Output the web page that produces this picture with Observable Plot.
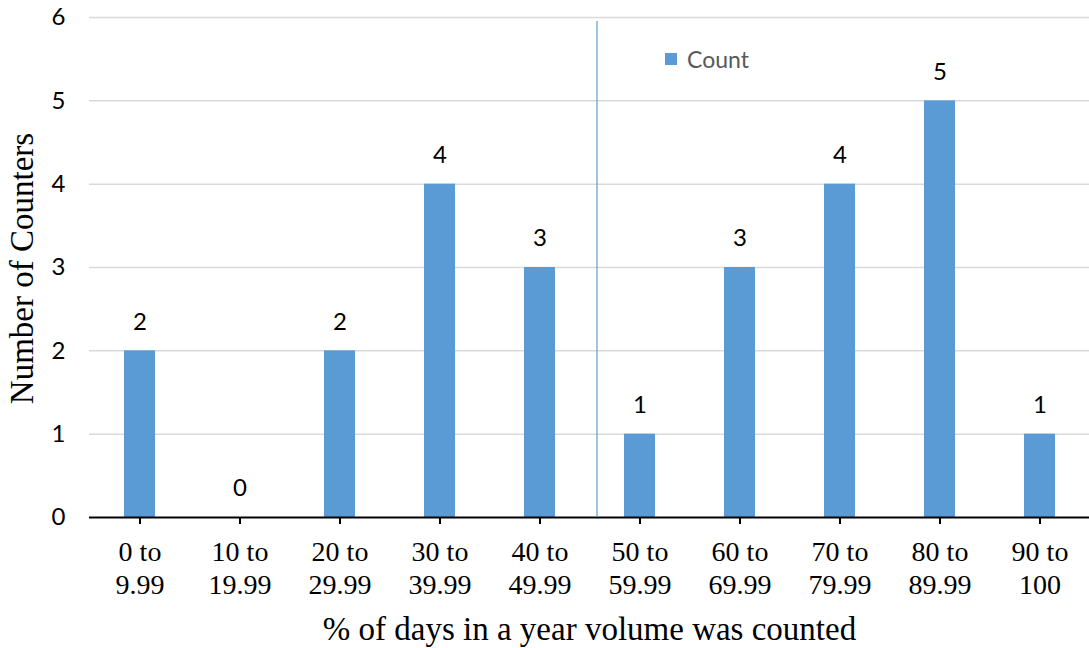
<!DOCTYPE html>
<html>
<head>
<meta charset="utf-8">
<script src="https://cdn.jsdelivr.net/npm/d3@7"></script>
<script src="https://cdn.jsdelivr.net/npm/@observablehq/plot@0.6"></script>
<style>
  html, body { margin: 0; padding: 0; background: #fff; }
  #wrap { position: relative; width: 1089px; height: 648px; }
  #legend { position: absolute; left: 665px; top: 45px; font-family: Lato, "Open Sans", sans-serif; font-size: 23px; color: #595959; display: flex; align-items: center; }
  #legend span.sw { display: inline-block; width: 12px; height: 12px; background: #5b9bd5; margin-right: 10px; }
</style>
</head>
<body>
<div id="wrap">
  <div id="legend"><span class="sw"></span><span>Count</span></div>
</div>
<script>
const categories = ["0 to\n9.99", "10 to\n19.99", "20 to\n29.99", "30 to\n39.99", "40 to\n49.99",
                    "50 to\n59.99", "60 to\n69.99", "70 to\n79.99", "80 to\n89.99", "90 to\n100"];
const counts = [2, 0, 2, 4, 3, 1, 3, 4, 5, 1];
const yTicks = [0, 1, 2, 3, 4, 5, 6];
const gridTicks = [1, 2, 3, 4, 5, 6];
const dividerCategory = "50 to\n59.99";
const xTitle = "% of days in a year volume was counted";
const yTitle = "Number of Counters";

const data = categories.map((c, i) => ({category: c, count: counts[i]}));
const sans = "Lato, 'Open Sans', sans-serif";
const serif = "'Liberation Serif', 'Times New Roman', serif";

const chart = Plot.plot({
  width: 1089,
  height: 648,
  marginLeft: 89,
  marginRight: 0,
  marginTop: 17,
  marginBottom: 131,
  style: {background: "#fff"},
  x: {domain: categories, paddingInner: 0.69, paddingOuter: 0.345, align: 0.5, axis: null},
  y: {domain: [0, 6], axis: null},
  marks: [
    Plot.ruleY(gridTicks, {stroke: "#d9d9d9", strokeWidth: 1.5}),
    Plot.barY(data, {x: "category", y: "count", fill: "#5b9bd5"}),
    Plot.ruleX(categories, {x: d => d, y1: 0, y2: 0, insetBottom: -7, stroke: "#000", strokeWidth: 2}),
    Plot.ruleY([0], {stroke: "#000", strokeWidth: 2}),
    Plot.ruleX([dividerCategory], {stroke: "#5b9bd5", strokeWidth: 1.2, dx: -43, y1: 0, y2: 6, insetBottom: -4}),
    Plot.text(data, {x: "category", y: "count", text: d => String(d.count), dy: -29,
      fontFamily: sans, fontSize: 24, fill: "#000"}),
    Plot.text(yTicks, {y: d => d, text: d => String(d), frameAnchor: "left", textAnchor: "end", dx: -24,
      fontFamily: sans, fontSize: 24, fill: "#000"}),
    Plot.text(categories, {x: d => d, text: d => d, frameAnchor: "bottom", textAnchor: "middle", lineAnchor: "top", dy: 20,
      lineHeight: 1.18, fontFamily: serif, fontSize: 28, fill: "#000"}),
    Plot.text([xTitle], {frameAnchor: "bottom", textAnchor: "middle", lineAnchor: "middle", dy: 112,
      fontFamily: serif, fontSize: 33, fill: "#000"}),
    Plot.text([yTitle], {frameAnchor: "left", textAnchor: "middle", lineAnchor: "middle", rotate: -90, dx: -67, dy: 1,
      fontFamily: serif, fontSize: 33, fill: "#000"})
  ]
});
document.getElementById("wrap").prepend(chart);
</script>
</body>
</html>
